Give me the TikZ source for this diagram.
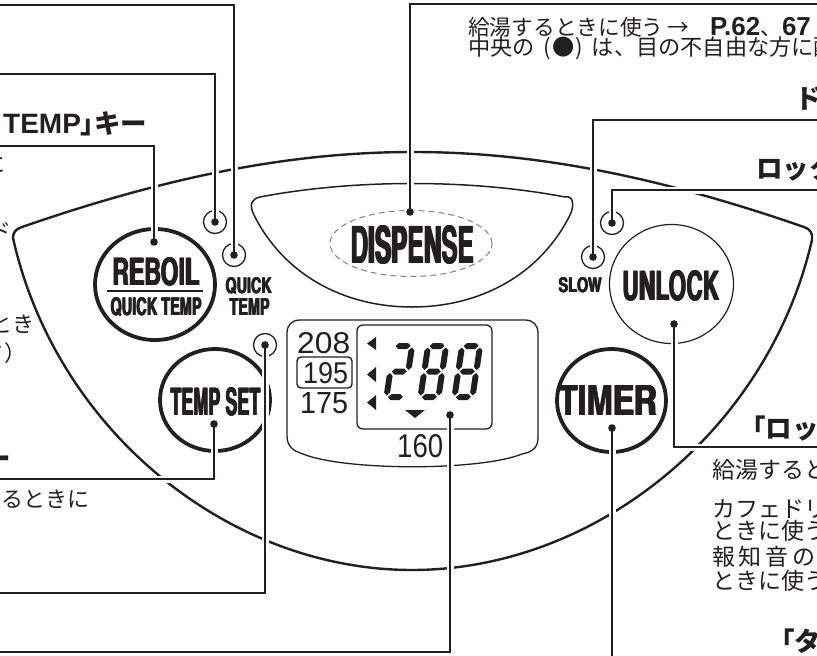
\documentclass[tikz,border=0pt]{standalone}
\usepackage{fontspec}
\usepackage{graphicx}
\usetikzlibrary{shapes.geometric}
\setmainfont{Noto Sans CJK JP}
\newfontfamily\btnf{texgyreheroscn-bold.otf}
\newfontfamily\numf{Liberation Sans}
\definecolor{ink}{HTML}{231F20}
\newsavebox\btnbox
\newcommand\btn[4]{\sbox\btnbox{\resizebox{#1pt}{#2pt}{\btnf #4}}\rlap{\usebox\btnbox}\kern#3pt\rlap{\usebox\btnbox}\kern#3pt\usebox\btnbox}
\newcommand\numtxt[3]{\resizebox{#1pt}{#2pt}{\numf #3}}
\newcommand\hseg[3]{\fill[ink] (#1,#3) -- ({#1+3},{#3-3}) -- ({#2-3},{#3-3}) -- (#2,#3) -- ({#2-3},{#3+3}) -- ({#1+3},{#3+3}) -- cycle;}
\newcommand\vseg[3]{\fill[ink] (#1,#2) -- ({#1+3},{#2+3}) -- ({#1+3},{#3-3}) -- (#1,#3) -- ({#1-3},{#3-3}) -- ({#1-3},{#2+3}) -- cycle;}
\newcommand\segA{\hseg{4.5}{19.5}{-54}}
\newcommand\segB{\vseg{21}{-52.5}{-30}}
\newcommand\segC{\vseg{21}{-27}{-4.5}}
\newcommand\segD{\hseg{4.5}{19.5}{-3}}
\newcommand\segE{\vseg{3}{-27}{-4.5}}
\newcommand\segF{\vseg{3}{-52.5}{-30}}
\newcommand\segG{\hseg{4.5}{19.5}{-28.5}}
\begin{document}
\begin{tikzpicture}[x=1pt,y=-1pt,
  bigbtn/.style={ellipse, draw=ink, line width=3.8pt, inner sep=0pt},
  thinbtn/.style={ellipse, draw=ink, line width=1.2pt, inner sep=0pt},
  smallc/.style={circle, draw=ink, line width=1.3pt, inner sep=0pt, minimum size=23pt},
  lead/.style={draw=ink, line width=2.3pt, preaction={draw=white, line width=7pt}},
  head/.style={font=\fontsize{26.5}{30}\selectfont\bfseries, inner sep=0pt, text=ink},
  bodyr/.style={font=\fontsize{23}{26}\selectfont, inner sep=0pt, text=ink, anchor=base west},
  bodyt/.style={font=\fontsize{21.7}{24}\selectfont, inner sep=0pt, text=ink, anchor=base west},
  bodyl/.style={font=\fontsize{22}{25}\selectfont, inner sep=0pt, text=ink, anchor=base east},
  lbl/.style={inner sep=0pt, anchor=base west, text=ink}]
\useasboundingbox (0,0) rectangle (817,656);
\clip (0,0) rectangle (817,656);
\fill[white] (0,0) rectangle (817,656);

% outer panel
\draw[ink, line width=2.4pt, line join=round]
  (13,238) .. controls (13,232) and (16,229) .. (22,227)
  .. controls (311,127) and (515,127) .. (804,227)
  .. controls (810,229) and (813,233) .. (812,240)
  .. controls (768,430) and (596,570) .. (412,570)
  .. controls (228,570) and (56,430) .. (13,238) -- cycle;
% dispense panel
\draw[ink, line width=1.5pt, line join=round]
  (260,197) .. controls (354,179) and (471,179) .. (565,197)
  .. controls (573,195) and (575,205) .. (570,215)
  .. controls (540,275) and (480,307) .. (412,307)
  .. controls (344,307) and (284,275) .. (254,215)
  .. controls (249,205) and (251,199) .. (260,197) -- cycle;
\node[ellipse, draw=gray, dashed, dash pattern=on 6pt off 4pt, line width=1pt, inner sep=0pt,
  minimum width=162pt, minimum height=66pt] (dsring) at (411,243.5) {};
\node[lbl] (tdisp) at (350,263) {\btn{123.4}{38}{0.8}{DISPENSE}};

% buttons
\node[bigbtn, minimum width=120pt, minimum height=111pt] (reboil) at (155,284.5) {};
\node[lbl] (treboil) at (112,285) {\btn{86.8}{28}{0.6}{REBOIL}};
\draw[ink, line width=2pt] (107,291) -- (203,291);
\node[lbl] (tqt) at (110,315) {\btn{91}{18}{0.5}{QUICK TEMP}};
\node[lbl] (tquick) at (225,293) {\btn{46}{16}{0.5}{QUICK}};
\node[lbl] (ttemp) at (229,315) {\btn{40}{17}{0.5}{TEMP}};
\node[bigbtn, minimum width=110pt, minimum height=102pt] (tempset) at (215,400) {};
\node[lbl] (ttempset) at (170,415) {\btn{89.8}{28}{0.6}{TEMP SET}};
\node[bigbtn, minimum width=109pt, minimum height=103pt] (timer) at (611.5,400.5) {};
\node[lbl] (ttimer) at (558,415) {\btn{98.6}{30}{0.7}{TIMER}};
\node[thinbtn, minimum width=124pt, minimum height=119pt] (unlock) at (671.5,284) {};
\node[lbl] (tunlock) at (622,300) {\btn{96.6}{30}{0.7}{UNLOCK}};
\node[lbl] (tslow) at (558,292) {\btn{43}{15}{0.5}{SLOW}};

% small lamps
\node[smallc] (qtc) at (234,255) {};
\node[smallc] (c2) at (215,222) {};
\node[smallc] (c5) at (265,345) {};
\node[smallc] (slowc) at (593,257) {};
\node[smallc] (lockc) at (612,223) {};

% display panel
\draw[ink, line width=1.3pt]
  (300,320) -- (525,320) .. controls (533,320) and (538,325) .. (538,333)
  -- (538,438) .. controls (538,448) and (532,452) .. (522,454)
  .. controls (480,471) and (345,471) .. (303,454)
  .. controls (293,451) and (287,446) .. (287,436)
  -- (287,333) .. controls (287,325) and (292,320) .. (300,320) -- cycle;
\draw[ink, line width=1.3pt, rounded corners=6pt] (357,325) rectangle (492,429);
\node[lbl] (n208) at (297,353) {\numtxt{53}{21}{208}};
\node[lbl] (n195) at (303,383) {\numtxt{45}{21}{195}};
\draw[ink, line width=1.4pt, rounded corners=4pt] (297,357) rectangle (352,388);
\node[lbl] (n175) at (300,413) {\numtxt{48}{21}{175}};
\node[lbl] (n160) at (397,457) {\numtxt{46}{23}{160}};
\fill[ink] (367,343.5) -- (376,337) -- (376,350) -- cycle;
\fill[ink] (367,374.5) -- (376,367) -- (376,382) -- cycle;
\fill[ink] (367,402.5) -- (376,395) -- (376,410) -- cycle;
\fill[ink] (405,410) -- (425,410) -- (415,418) -- cycle;
\begin{scope}[shift={(383,400)}]\begin{scope}[xslant=0.15]
  \segA\segB\segG\segE\segD
\end{scope}\end{scope}
\begin{scope}[shift={(417,400)}]\begin{scope}[xslant=0.15]
  \segA\segB\segC\segD\segE\segF\segG
\end{scope}\end{scope}
\begin{scope}[shift={(451,400)}]\begin{scope}[xslant=0.15]
  \segA\segB\segC\segD\segE\segF\segG
\end{scope}\end{scope}

% texts right
\node[bodyt] (r1) at (468,35.5) {給湯するときに使う\kern4pt→};
\node[bodyt] (r1b) at (710,35.5) {{\numf\bfseries\fontsize{26}{28}\selectfont P.62}、{\numf\bfseries\fontsize{26}{28}\selectfont 67}};
\node[bodyt, font=\fontsize{22.2}{24}\selectfont] (r2) at (468,55.5) {中央の\kern9pt(\kern1pt●\kern1pt)\kern9pt は、目の不自由な方に配慮した突起です};
\node[head, anchor=base west] (hd) at (795,108) {ドリップランプ};
\node[head, anchor=base west] (hl) at (756,178) {ロック解除ランプ};
\node[head, anchor=base west] (hu) at (739,438) {「ロック解除」キー};
\node[bodyr] (u1) at (712,478.5) {給湯するときに押す};
\node[bodyr] (u2) at (712,517) {カフェドリップ給湯をする};
\node[bodyr] (u3) at (712,539) {ときに使う};
\node[bodyr] (u4) at (712,565) {報\kern3.7pt 知\kern3.7pt 音\kern3.7pt の\kern3.7pt 切りかえをする};
\node[bodyr] (u5) at (712,589) {ときに使う};
\node[head, anchor=base west] (ht) at (768,651) {「タイマー」キー};

% texts left
\node[head, anchor=base west] (hr) at (3,133) {{\numf\fontsize{28}{30}\selectfont TEMP}｣キー};
\node[bodyl] (l1) at (6,172) {再沸とうするときに};
\node[bodyl] (l2) at (12,239) {モード};
\node[bodyl] (l3) at (34.5,332) {保温温度を切りかえるとき};
\node[bodyl] (l4) at (26.5,361) {（カフェドリップモード）};
\node[head, anchor=base east] (hs) at (11.5,468) {「TEMP SET」キー};
\node[bodyl] (l5) at (90,507) {保温温度を設定するときに};

% leader lines
\coordinate (e1) at (0,5);
\coordinate (e2) at (0,74);
\coordinate (e3) at (0,146);
\coordinate (e4) at (0,479);
\coordinate (e5) at (0,593);
\coordinate (e6) at (0,652);
\coordinate (e7) at (817,4);
\coordinate (e8) at (817,120);
\coordinate (e9) at (817,190);
\coordinate (e10) at (817,447);
\coordinate (e11) at (612,660);
\coordinate (rbdot) at (154,242);
\coordinate (tsdot) at (214,424);
\coordinate (lcddot) at (450,415);
\coordinate (dsdot) at (410,212);
\coordinate (ulkdot) at (674,324);
\coordinate (tmdot) at (612,428);
\draw[lead] (e1) -| (qtc.center);
\draw[lead] (e2) -| (c2.center);
\draw[lead] (e3) -| (rbdot);
\draw[lead] (e4) -| (tsdot);
\draw[lead] (e5) -| (c5.center);
\draw[lead] (e6) -| (lcddot);
\draw[lead] (e7) -| (dsdot);
\draw[lead] (e8) -| (slowc.center);
\draw[lead] (e9) -| (lockc.center);
\draw[lead] (e10) -| (ulkdot);
\draw[lead] (tmdot) -- (e11);
\foreach \p in {qtc.center,c2.center,rbdot,tsdot,c5.center,lcddot,dsdot,slowc.center,lockc.center,ulkdot,tmdot}
  \fill[ink] (\p) circle (3.8);
\end{tikzpicture}
\end{document}
